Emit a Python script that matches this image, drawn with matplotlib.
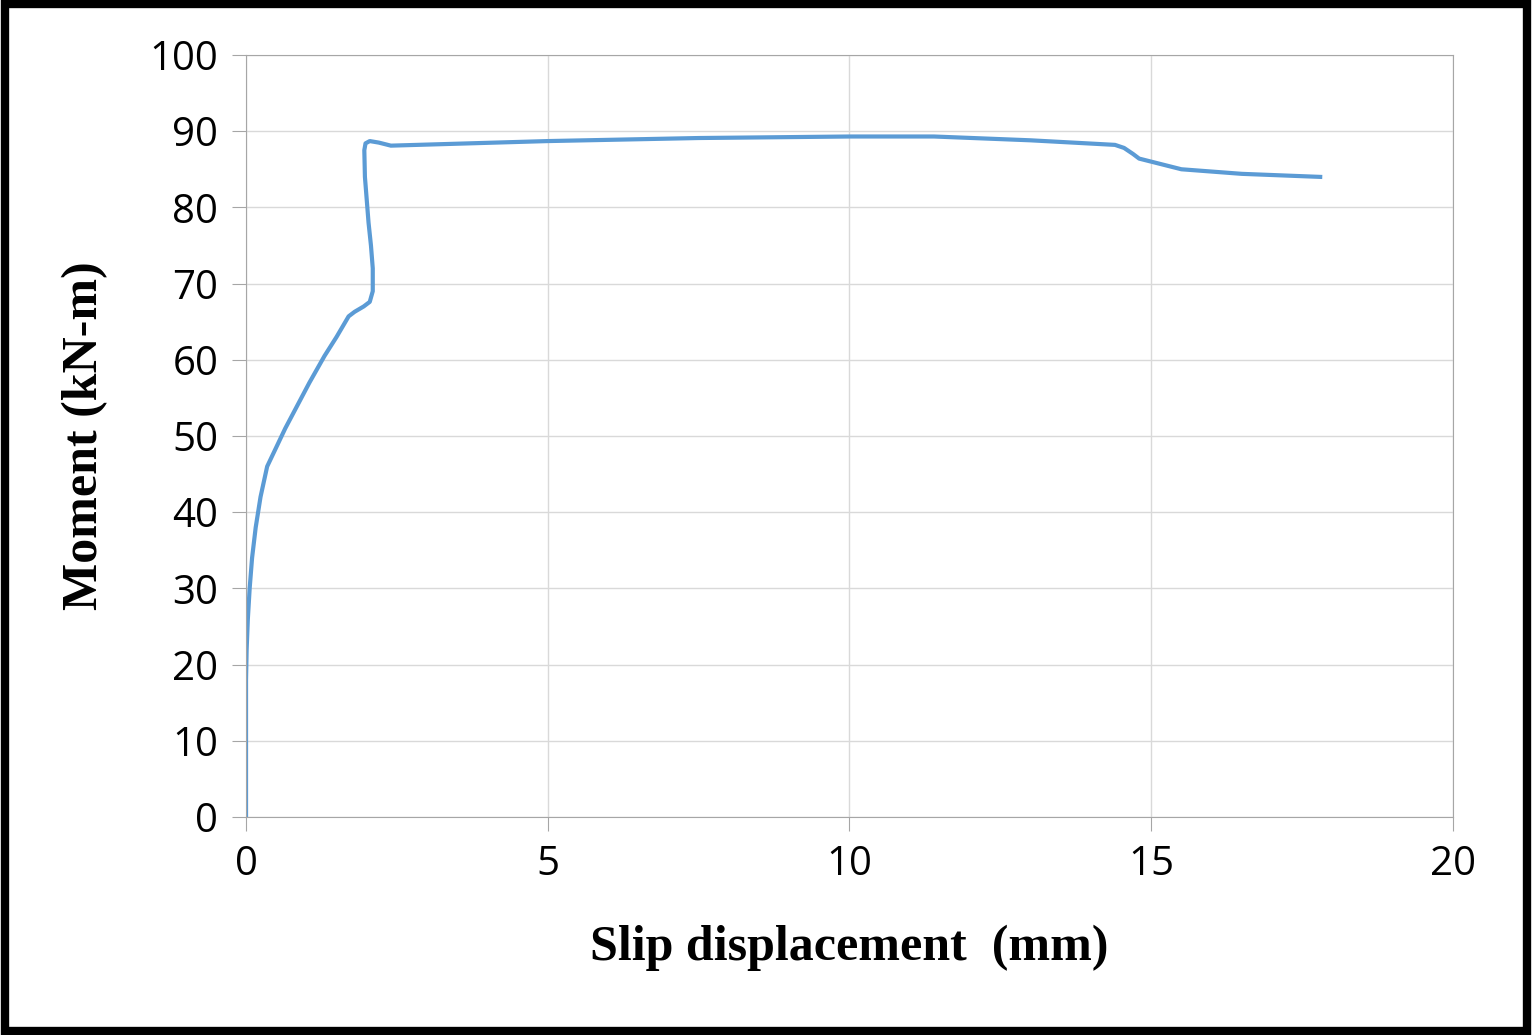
import matplotlib
matplotlib.use('Agg')
import matplotlib.pyplot as plt
from matplotlib.patches import Rectangle

# slip (mm) vs moment (kN-m)
slip = [0, 0, 0.01, 0.03, 0.06, 0.1, 0.16, 0.24, 0.35, 0.5, 0.65, 0.85, 1.05, 1.3, 1.5, 1.7,
        1.8, 1.95, 2.05, 2.1, 2.1, 2.07, 2.03, 2.0, 1.97, 1.96, 1.98, 2.05, 2.2, 2.4, 5,
        7.5, 10, 11.4, 13, 14.4, 14.55, 14.7, 14.8, 15.2, 15.5, 16.5, 17.8]
moment = [0, 18, 22, 26, 30, 34, 38, 42, 46, 48.5, 51, 54, 57, 60.5, 63, 65.7,
          66.3, 67, 67.6, 69, 72, 75, 78, 81, 84, 87.5, 88.4, 88.7, 88.5, 88.1, 88.7,
          89.1, 89.3, 89.3, 88.8, 88.2, 87.8, 87.0, 86.4, 85.6, 85.0, 84.4, 84.0]

fig = plt.figure(figsize=(15.32, 10.35), dpi=100)
ax = fig.add_axes([0.1606, 0.2106, 0.7878, 0.7363])
ax.plot(slip, moment, color='#5b9bd5', lw=3)
ax.set_xlim(0, 20)
ax.set_ylim(0, 100)
ax.set_xticks(range(0, 21, 5))
ax.set_yticks(range(0, 101, 10))
ax.grid(True, color='#d9d9d9', lw=1)
for s in ax.spines.values():
    s.set_color('#a6a6a6')
ax.tick_params(labelsize=29, colors='black', length=10, color='#a6a6a6', pad=10)
for lab in ax.get_xticklabels() + ax.get_yticklabels():
    lab.set_family('Open Sans')
ax.set_xlabel('Slip displacement  (mm)', fontsize=36, fontweight='bold',
              family='Liberation Serif', labelpad=28)
ax.set_ylabel('Moment (kN-m)', fontsize=36, fontweight='bold',
              family='Liberation Serif', labelpad=30)
fig.patches.append(Rectangle((0.003, 0.004), 0.994, 0.992, transform=fig.transFigure,
                             fill=False, lw=6, edgecolor='black'))
fig.savefig('out.png', dpi=100)
